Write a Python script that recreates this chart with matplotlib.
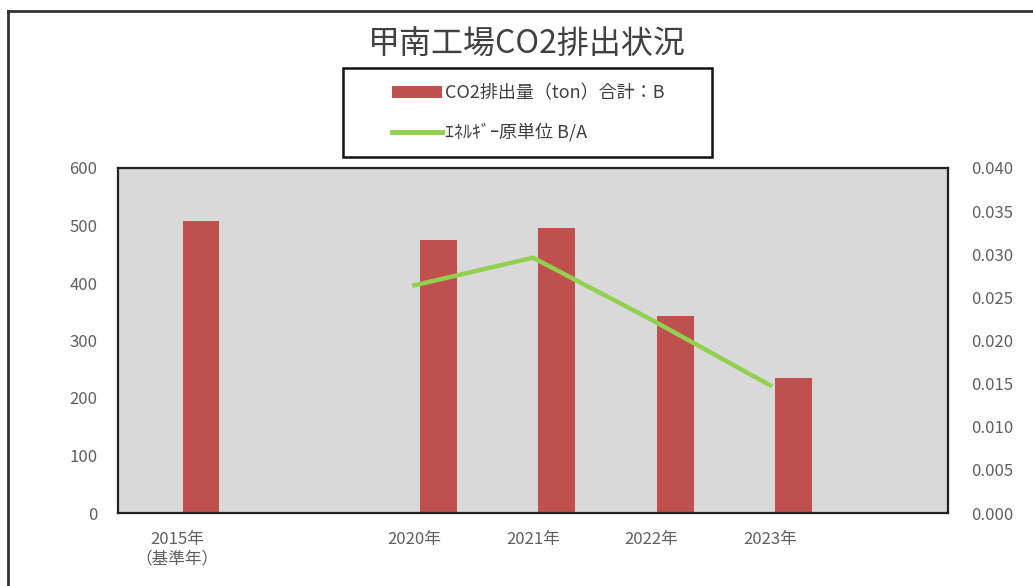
import numpy as np
import matplotlib
matplotlib.use('Agg')
import matplotlib.pyplot as plt
from matplotlib.patches import Rectangle, Patch
from matplotlib.lines import Line2D

plt.rcParams['font.family'] = ['Noto Sans CJK JP', 'DejaVu Sans']

# data
categories = ['2015年\n（基準年）', '', '2020年', '2021年', '2022年', '2023年', '']
co2_ton = [508, np.nan, 475, 496, 343, 235, np.nan]
energy_ratio = [np.nan, np.nan, 0.0264, 0.0296, 0.0224, 0.0148, np.nan]

title = '甲南工場CO2排出状況'
bar_label = 'CO2排出量（ton）合計：B'
line_label = 'ｴﾈﾙｷﾞｰ原単位 B/A'

bar_color = '#C0504D'
line_color = '#92D050'
grey = '#606060'

fig = plt.figure(figsize=(10.33, 5.86), dpi=100)
ax = fig.add_axes([118 / 1033, 1 - 513 / 586, 830 / 1033, 345 / 586])
ax.set_facecolor('#D9D9D9')

x = np.arange(len(categories))
# bars sit a little right of the category centre (empty second series in excel)
ax.bar(x + 0.2, co2_ton, width=0.31, color=bar_color, zorder=2)
ax.set_xlim(-0.5, len(categories) - 0.5)
ax.set_ylim(0, 600)
ax.set_yticks(range(0, 601, 100))
ax.set_xticks(x)
ax.set_xticklabels(categories)
ax.tick_params(axis='both', length=0, labelsize=12, labelcolor=grey)
ax.tick_params(axis='y', pad=15)
ax.tick_params(axis='x', pad=13)
for s in ax.spines.values():
    s.set_color('#222222')
    s.set_linewidth(1.6)

ax2 = ax.twinx()
ax2.plot(x, energy_ratio, color=line_color, linewidth=3.2, zorder=3)
ax2.set_ylim(0, 0.04)
ax2.set_yticks(np.arange(0, 0.0401, 0.005))
ax2.set_yticklabels(['%.3f' % v for v in np.arange(0, 0.0401, 0.005)])
ax2.tick_params(axis='y', length=0, labelsize=12, labelcolor=grey, pad=17)
for s in ax2.spines.values():
    s.set_visible(False)

fig.text(527 / 1033, 1 - 45 / 586, title, ha='center', va='center',
         fontsize=23, color='#404040')

# legend box
fig.patches.append(Rectangle((343 / 1033, 1 - 157 / 586), 369 / 1033, 89 / 586,
                             transform=fig.transFigure, fill=False,
                             edgecolor='#111111', linewidth=1.8))
handles = [Patch(facecolor=bar_color, edgecolor='none'),
           Line2D([0], [0], color=line_color, linewidth=3.5)]
fig.legend(handles, [bar_label, line_label], loc='center left',
           bbox_to_anchor=(376 / 1033, 1 - 113 / 586), frameon=False,
           fontsize=13, labelspacing=1.15, handlelength=2.75, handletextpad=0.15,
           labelcolor='#404040')

# outer frame
fig.add_artist(Line2D([8 / 1033, 8 / 1033], [0, 1 - 11 / 586],
                      transform=fig.transFigure, color='#333333', linewidth=2))
fig.add_artist(Line2D([8 / 1033, 1], [1 - 11 / 586, 1 - 11 / 586],
                      transform=fig.transFigure, color='#333333', linewidth=2))

fig.savefig('out.png', dpi=100)
